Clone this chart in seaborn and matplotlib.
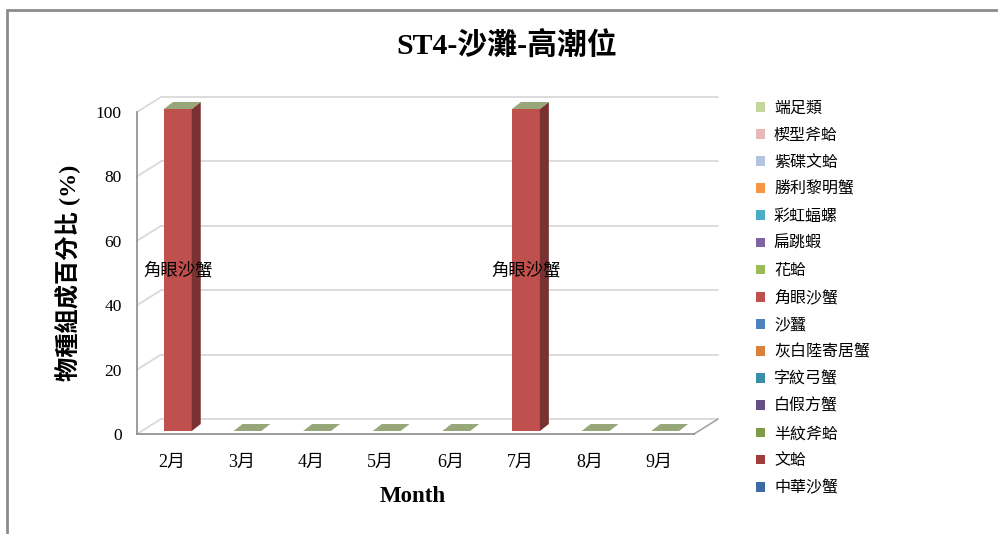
import numpy as np
import pandas as pd
import seaborn as sns
import matplotlib.pyplot as plt
from matplotlib.patches import Patch, Polygon
from matplotlib.lines import Line2D
from matplotlib.colors import to_rgb

# months and species (legend order, top of stack first)
months = ['2月', '3月', '4月', '5月', '6月', '7月', '8月', '9月']
species = ['端足類', '楔型斧蛤', '紫碟文蛤', '勝利黎明蟹', '彩虹蝠螺', '扁跳蝦', '花蛤',
           '角眼沙蟹', '沙蠶', '灰白陸寄居蟹', '字紋弓蟹', '白假方蟹', '半紋斧蛤', '文蛤', '中華沙蟹']
colors = ['#C3D69B', '#E6B9B8', '#B4C4E0', '#F79646', '#4BACC6', '#8064A2', '#9BBB59',
          '#C0504D', '#4F81BD', '#D9803A', '#3A8FA6', '#664E87', '#7F9A48', '#9E3D3B', '#3E6AA3']

# percentage per month
amphipod = [0, 0, 0, 0, 0, 0, 0, 0]
donax_wedge = [0, 0, 0, 0, 0, 0, 0, 0]
purple_clam = [0, 0, 0, 0, 0, 0, 0, 0]
matuta = [0, 0, 0, 0, 0, 0, 0, 0]
umbonium = [0, 0, 0, 0, 0, 0, 0, 0]
talitrid = [0, 0, 0, 0, 0, 0, 0, 0]
ruditapes = [0, 0, 0, 0, 0, 0, 0, 0]
ghost_crab = [100, 0, 0, 0, 0, 100, 0, 0]
polychaete = [0, 0, 0, 0, 0, 0, 0, 0]
hermit_crab = [0, 0, 0, 0, 0, 0, 0, 0]
varuna = [0, 0, 0, 0, 0, 0, 0, 0]
metopograpsus = [0, 0, 0, 0, 0, 0, 0, 0]
donax_semi = [0, 0, 0, 0, 0, 0, 0, 0]
meretrix = [0, 0, 0, 0, 0, 0, 0, 0]
chinese_crab = [0, 0, 0, 0, 0, 0, 0, 0]

series = [amphipod, donax_wedge, purple_clam, matuta, umbonium, talitrid, ruditapes,
          ghost_crab, polychaete, hermit_crab, varuna, metopograpsus, donax_semi,
          meretrix, chinese_crab]
df = pd.DataFrame(np.array(series).T, index=months, columns=species)

sns.set_style('white')
plt.rcParams['font.family'] = ['Liberation Serif', 'Noto Sans CJK TC']
plt.rcParams['text.color'] = 'black'
plt.rcParams['axes.labelcolor'] = 'black'
CJK = ['Noto Sans CJK TC', 'DejaVu Sans']

W, H = 998, 534
fig = plt.figure(figsize=(W / 100, H / 100), dpi=100)


def box(l, b, w, h):
    return [l / W, b / H, w / W, h / H]


ax = fig.add_axes(box(137, 100, 557, 322))
bx = fig.add_axes(box(143, 103, 557, 322))
for a in (ax, bx):
    a.set_xlim(-0.5, len(months) - 0.5)
    a.set_ylim(0, 100)
bx.set_facecolor('none')
bx.axis('off')
ax.set_facecolor('none')

ux = 557 / len(months)
uy = 322 / 100
dx, dy = 24 / ux, 15 / uy      # back wall depth
bdx, bdy = 9 / ux, 7 / uy      # bar depth

grid = '#d9d9d9'
yt = np.arange(0, 101, 20)
for v in yt:
    ax.plot([-0.5 + dx, len(months) - 0.5 + dx], [v + dy, v + dy], color=grid, lw=1.3,
            clip_on=False, zorder=0)
    ax.plot([-0.5, -0.5 + dx], [v, v + dy], color=grid, lw=1.3, clip_on=False, zorder=0)
ax.plot([len(months) - 0.5, len(months) - 0.5 + dx], [0, dy], color='#a6a6a6', lw=1.2,
        clip_on=False, zorder=0)

# stacked bars (bottom = last species)
cum = df[species[::-1]].cumsum(axis=1)
bottoms = cum.shift(axis=1).fillna(0)
for s in species:
    sns.barplot(x=months, y=cum[s].values, color=dict(zip(species, colors))[s], width=0.4,
                saturation=1, linewidth=0, errorbar=None, ax=bx, zorder=3)

geo = bx.patches[:len(months)]
top_col = np.array(to_rgb(colors[0])) * 0.78
for i, p in enumerate(geo):
    x0, x1 = p.get_x(), p.get_x() + p.get_width()
    for s, c in zip(species, colors):
        b, t = bottoms[s].iloc[i], cum[s].iloc[i]
        if t > b:
            side = np.array(to_rgb(c)) * 0.63
            bx.add_patch(Polygon([(x1, b), (x1 + bdx, b + bdy), (x1 + bdx, t + bdy), (x1, t)],
                                 facecolor=side, edgecolor='none', clip_on=False, zorder=3))
            bx.text((x0 + x1) / 2, (b + t) / 2, s, ha='center', va='center', fontsize=12.5,
                    family=CJK, zorder=5)
    T = cum[species[0]].iloc[i]
    bx.add_patch(Polygon([(x0, T), (x1, T), (x1 + bdx, T + bdy), (x0 + bdx, T + bdy)],
                         facecolor=top_col, edgecolor='none', clip_on=False, zorder=4))

# axes styling
for sp in ('top', 'right'):
    ax.spines[sp].set_visible(False)
for sp in ('left', 'bottom'):
    ax.spines[sp].set_color('#8c8c8c')
    ax.spines[sp].set_linewidth(1.2)
ax.set_yticks(yt)
ax.set_xticks(range(len(months)))
ax.set_xticklabels(months)
ax.set_xticks(np.arange(-0.5, len(months)), minor=True)
ax.tick_params(axis='y', length=5, color='#8c8c8c', labelcolor='black', width=1.2, pad=6,
               labelsize=12.5)
ax.tick_params(axis='x', which='major', length=0, pad=14, labelsize=13, labelcolor='black')
ax.tick_params(axis='x', which='minor', length=6, color='#8c8c8c', width=1.2)

ax.set_ylabel('物種組成百分比 (%)', fontsize=17.5, fontweight='bold')
ax.set_xlabel('Month', fontsize=16.5, fontweight='bold')
ax.yaxis.set_label_coords(-0.1, 0.5)
ax.xaxis.set_label_coords(0.4955, -0.16)

fig.text(507 / W, 1 - 45 / H, 'ST4-沙灘-高潮位', ha='center', va='center', fontsize=21.5,
         fontweight='bold')

handles = [Patch(facecolor=c, edgecolor='none', label=s) for s, c in zip(species, colors)]
fig.legend(handles=handles, loc='upper left', bbox_to_anchor=(750 / W, 1 - 93 / H),
           frameon=False, prop={'family': CJK, 'size': 11.5}, handlelength=0.55,
           handleheight=0.55, handletextpad=0.55, labelspacing=0.635, borderaxespad=0)

# chart border (left and top)
fig.add_artist(Line2D([7 / W, 7 / W], [0, 1 - 10 / H], color='#8c8c8c', lw=2))
fig.add_artist(Line2D([7 / W, 1], [1 - 10 / H, 1 - 10 / H], color='#8c8c8c', lw=2))

fig.savefig('out.png', dpi=100)
